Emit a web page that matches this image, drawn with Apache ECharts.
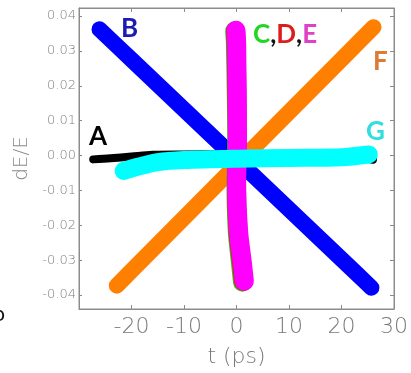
<!DOCTYPE html>
<html>
<head>
<meta charset="utf-8">
<script src="https://cdn.jsdelivr.net/npm/echarts@6/dist/echarts.min.js"></script>
<style>
  html, body { margin: 0; padding: 0; background: #fff; }
  #chart { width: 411px; height: 373px; }
</style>
</head>
<body>
<div id="chart"></div>
<script>
// tick positions
const xTicks = [-30, -20, -10, 0, 10, 20, 30];
const yTicks = [-0.04, -0.03, -0.02, -0.01, 0.00, 0.01, 0.02, 0.03, 0.04];

// band centre lines [t (ps), dE/E]
const bandA = [[-27.3, -0.0011], [-24, -0.0008], [-20, -0.0003], [-16, 0.0002], [-10, 0.0003], [0, 0.0004], [12, 0.0003], [20, 0.0000], [26.0, -0.0012]];
const bandB = [[-26.1, 0.0362], [-20, 0.0275], [23, -0.0340], [25.7, -0.0379]];
const bandF = [[-22.8, -0.0373], [-17, -0.0285], [21, 0.0291], [26.1, 0.0368]];
const bandC = [[-0.35, 0.0357], [-0.2, 0.0318], [0.05, 0.0040], [-0.1, -0.0074], [0.15, -0.0217], [0.8, -0.0313], [1.15, -0.0363]];
const bandD = [[-0.2, 0.0358], [-0.07, 0.0319], [0.15, 0.0040], [-0.02, -0.0074], [0.28, -0.0217], [0.97, -0.0311], [1.33, -0.0361]];
const bandE = [[-0.1, 0.0359], [0.03, 0.0320], [0.2, 0.0040], [0.03, -0.0074], [0.4, -0.0217], [1.14, -0.0310], [1.5, -0.0360]];
const bandG = [[-21.5, -0.0044], [-19, -0.0033], [-15, -0.0019], [-10, -0.0013], [0, -0.0009], [10, -0.0007], [20, -0.0005], [25.2, 0.0003]];

const axisGrey = '#8c8c8c';

function band(data, color, width, z) {
  return {
    type: 'line',
    data: data,
    symbol: 'none',
    smooth: 0.3,
    z: z,
    silent: true,
    lineStyle: { color: color, width: width, cap: 'round', join: 'round' }
  };
}

const chart = echarts.init(document.getElementById('chart'));

const option = {
  animation: false,
  grid: {
    left: 79, right: 8, top: 8, bottom: 62,
    show: true, borderColor: axisGrey, borderWidth: 1
  },
  xAxis: [
    {
      type: 'value', min: -30, max: 30, interval: 10,
      name: 't (ps)', nameLocation: 'middle', nameGap: 37,
      nameTextStyle: { color: '#7a7a7a', fontSize: 22, fontFamily: 'DejaVu Sans', fontWeight: 200 },
      axisLine: { show: true, onZero: false, lineStyle: { color: axisGrey } },
      axisTick: { show: true, inside: true, length: 4, lineStyle: { color: axisGrey } },
      axisLabel: {
        showMinLabel: false, margin: 7, color: '#7a7a7a', fontSize: 22,
        fontFamily: 'DejaVu Sans', fontWeight: 200,
        formatter: v => String(v)
      },
      splitLine: { show: false }
    },
    {
      type: 'value', position: 'top', min: -30, max: 30, interval: 10,
      axisLine: { show: true, onZero: false, lineStyle: { color: axisGrey } },
      axisTick: { show: true, inside: true, length: 4, lineStyle: { color: axisGrey } },
      axisLabel: { show: false },
      splitLine: { show: false }
    }
  ],
  yAxis: [
    {
      type: 'value', min: -0.044, max: 0.0423,
      name: 'dE/E', nameLocation: 'middle', nameGap: 37, nameRotate: 90,
      nameTextStyle: { color: '#8a8a8a', fontSize: 20, fontFamily: 'DejaVu Sans', fontWeight: 200 },
      axisLine: { show: true, onZero: false, lineStyle: { color: axisGrey } },
      axisTick: { show: true, inside: true, length: 3, customValues: yTicks, lineStyle: { color: axisGrey } },
      axisLabel: {
        customValues: yTicks, margin: 3, color: '#808080', fontSize: 13,
        fontFamily: 'DejaVu Sans', fontWeight: 200,
        formatter: v => v.toFixed(2)
      },
      splitLine: { show: false }
    },
    {
      type: 'value', position: 'right', min: -0.044, max: 0.0423,
      axisLine: { show: true, onZero: false, lineStyle: { color: axisGrey } },
      axisTick: { show: true, inside: true, length: 4, customValues: yTicks, lineStyle: { color: axisGrey } },
      axisLabel: { show: false },
      splitLine: { show: false }
    }
  ],
  series: [
    band(bandA, '#000000', 8, 2),
    band(bandB, '#0000ff', 16, 3),
    band(bandF, '#ff7f00', 16, 4),
    band(bandC, '#2fb82f', 19, 5),
    band(bandD, '#e02020', 19, 6),
    band(bandE, '#ff00ff', 19, 7),
    band(bandG, '#00ffff', 18, 8)
  ],
  graphic: [
    { type: 'text', left: 89, top: 124, z: 20, style: { text: 'A', fill: '#000000', font: 'bold 26px Lato' } },
    { type: 'text', left: 121, top: 16, z: 20, style: { text: 'B', fill: '#1c1cb4', font: 'bold 26px Lato' } },
    {
      type: 'text', left: 253, top: 22, z: 20,
      style: {
        text: '{c|C}{k|,}{d|D}{k|,}{e|E}',
        font: 'bold 26px Lato',
        rich: {
          c: { fill: '#22d622', font: 'bold 26px Lato' },
          d: { fill: '#dd1c1c', font: 'bold 26px Lato' },
          e: { fill: '#e040c8', font: 'bold 26px Lato' },
          k: { fill: '#111111', font: 'bold 26px Lato' }
        }
      }
    },
    { type: 'text', left: 373, top: 49, z: 20, style: { text: 'F', fill: '#dc7a36', font: 'bold 26px Lato' } },
    { type: 'text', left: 366, top: 119, z: 20, style: { text: 'G', fill: '#30dede', font: 'bold 26px Lato' } },
    { type: 'text', left: -7, top: 306, z: 20, style: { text: 'o', fill: '#111111', font: '20px "DejaVu Sans"' } }
  ]
};

chart.setOption(option);
</script>
</body>
</html>
